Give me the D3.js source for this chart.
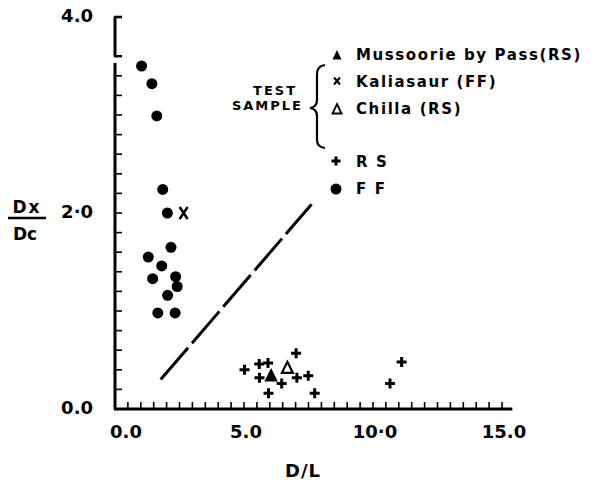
<!DOCTYPE html>
<html>
<head>
<meta charset="utf-8">
<script src="https://cdn.jsdelivr.net/npm/d3@7"></script>
<style>
  body { margin: 0; background: #fff; }
  text { font-family: "DejaVu Sans", sans-serif; font-weight: bold; fill: #000; }
</style>
</head>
<body>
<svg id="chart" width="597" height="482"></svg>
<script>
// Data
var ffX = [1.03, 1.43, 1.62, 1.85, 2.03, 2.17, 1.29, 1.81, 1.46, 2.35, 2.41, 2.04, 1.66, 2.33];
var ffY = [3.50, 3.32, 2.99, 2.24, 2.00, 1.65, 1.55, 1.46, 1.33, 1.35, 1.25, 1.16, 0.98, 0.98];

var rsX = [5.02, 5.59, 5.93, 5.60, 5.95, 6.46, 7.02, 7.05, 7.49, 7.74, 10.66, 11.11];
var rsY = [0.40, 0.46, 0.47, 0.32, 0.16, 0.26, 0.57, 0.32, 0.34, 0.16, 0.26, 0.48];

// test samples
var mussoorie = [6.05, 0.34];
var kaliasaur = [2.66, 2.00];
var chilla = [6.68, 0.42];

// dashed boundary line
var boundaryX = [1.77, 7.62];
var boundaryY = [0.30, 2.09];

var xTickLabels = [0, 5, 10, 15];
var xLabelText = ["0.0", "5.0", "10\u00b70", "15.0"];
var yTickLabels = [0, 2, 4];
var yLabelText = ["0.0", "2\u00b70", "4.0"];

var svg = d3.select("#chart");

var x = d3.scaleLinear().domain([0, 15]).range([115, 502]);
var y = d3.scaleLinear().domain([0, 4]).range([409, 17]);

// y axis, broken between 3.53 and 3.6
svg.append("line")
  .attr("x1", x(0)).attr("x2", x(0))
  .attr("y1", y(0)).attr("y2", y(3.53))
  .attr("stroke", "#000").attr("stroke-width", 3);
svg.append("line")
  .attr("x1", x(0)).attr("x2", x(0))
  .attr("y1", y(3.6)).attr("y2", y(4.0))
  .attr("stroke", "#000").attr("stroke-width", 3);

var yTicks = d3.range(1, 18).map(function(i) { return i * 0.2; });
svg.selectAll(".ytick").data(yTicks).enter().append("line")
  .attr("class", "ytick")
  .attr("x1", x(0)).attr("x2", x(0) + 7)
  .attr("y1", function(d) { return y(d); })
  .attr("y2", function(d) { return y(d); })
  .attr("stroke", "#000").attr("stroke-width", 1.6);
svg.selectAll(".ybr").data([3.6, 4.0]).enter().append("line")
  .attr("class", "ybr")
  .attr("x1", x(0) - 1).attr("x2", x(0) + 7)
  .attr("y1", function(d) { return y(d); })
  .attr("y2", function(d) { return y(d); })
  .attr("stroke", "#000").attr("stroke-width", 2.5);

// x axis
svg.append("line")
  .attr("x1", x(0) - 1).attr("x2", x(15.4))
  .attr("y1", y(0)).attr("y2", y(0))
  .attr("stroke", "#000").attr("stroke-width", 3);
var xTicks = d3.range(1, 31).map(function(i) { return i * 0.5; });
svg.selectAll(".xtick").data(xTicks).enter().append("line")
  .attr("class", "xtick")
  .attr("x1", function(d) { return x(d); })
  .attr("x2", function(d) { return x(d); })
  .attr("y1", y(0)).attr("y2", y(0) - 7)
  .attr("stroke", "#000").attr("stroke-width", 1.6);

// tick labels
svg.selectAll(".xl").data(xTickLabels).enter().append("text")
  .attr("class", "xl")
  .attr("x", function(d) { return x(d) + (d === 0 ? 11 : 2); })
  .attr("y", 438)
  .attr("text-anchor", "middle")
  .attr("font-size", 18)
  .text(function(d, i) { return xLabelText[i]; });

svg.selectAll(".yl").data(yTickLabels).enter().append("text")
  .attr("class", "yl")
  .attr("x", 93)
  .attr("y", function(d) { return y(d) + 5; })
  .attr("text-anchor", "end")
  .attr("font-size", 18)
  .text(function(d, i) { return yLabelText[i]; });

// axis titles
svg.append("text").attr("x", 303).attr("y", 477)
  .attr("text-anchor", "middle").attr("font-size", 18)
  .attr("letter-spacing", 1).text("D/L");
svg.append("text").attr("x", 27).attr("y", 213)
  .attr("text-anchor", "middle").attr("font-size", 17)
  .attr("letter-spacing", 2).text("Dx");
svg.append("line").attr("x1", 8).attr("x2", 46)
  .attr("y1", 218).attr("y2", 218)
  .attr("stroke", "#000").attr("stroke-width", 2.5);
svg.append("text").attr("x", 25).attr("y", 240)
  .attr("text-anchor", "middle").attr("font-size", 17)
  .text("Dc");

// dashed line
svg.append("line")
  .attr("x1", x(boundaryX[0])).attr("y1", y(boundaryY[0]))
  .attr("x2", x(boundaryX[1])).attr("y2", y(boundaryY[1]))
  .attr("stroke", "#000").attr("stroke-width", 3)
  .attr("stroke-dasharray", "42,6");

// markers
var plusPath = "M-5,0H5M0,-5V5";
var triPath = "M0,-6L5.5,5L-5.5,5Z";
var crossPath = "M-4,-6L4,6M4,-6L-4,6";

svg.selectAll(".ff").data(ffX).enter().append("circle")
  .attr("class", "ff")
  .attr("cx", function(d) { return x(d); })
  .attr("cy", function(d, i) { return y(ffY[i]); })
  .attr("r", 5.5).attr("fill", "#000");

svg.selectAll(".rs").data(rsX).enter().append("path")
  .attr("class", "rs")
  .attr("d", plusPath)
  .attr("transform", function(d, i) { return "translate(" + x(d) + "," + y(rsY[i]) + ")"; })
  .attr("stroke", "#000").attr("stroke-width", 3).attr("fill", "none");

svg.append("path").attr("d", triPath)
  .attr("transform", "translate(" + x(mussoorie[0]) + "," + y(mussoorie[1]) + ")")
  .attr("fill", "#000").attr("stroke", "#000").attr("stroke-width", 1.5);
svg.append("path").attr("d", triPath)
  .attr("transform", "translate(" + x(chilla[0]) + "," + y(chilla[1]) + ")")
  .attr("fill", "none").attr("stroke", "#000").attr("stroke-width", 2.2);
svg.append("path").attr("d", crossPath)
  .attr("transform", "translate(" + x(kaliasaur[0]) + "," + y(kaliasaur[1]) + ")")
  .attr("fill", "none").attr("stroke", "#000").attr("stroke-width", 2.5);

// legend
var lg = svg.append("g");
lg.append("text").attr("x", 297).attr("y", 95)
  .attr("text-anchor", "end").attr("font-size", 13)
  .attr("letter-spacing", 2).text("TEST");
lg.append("text").attr("x", 303).attr("y", 110)
  .attr("text-anchor", "end").attr("font-size", 13)
  .attr("letter-spacing", 2).text("SAMPLE");
lg.append("path")
  .attr("d", "M325,65 Q317,66 317,74 L317,100 Q317,107 310,108 Q317,109 317,116 L317,140 Q317,147 325,148")
  .attr("fill", "none").attr("stroke", "#000").attr("stroke-width", 2.2);

lg.append("path").attr("d", "M0,-5L4.5,4.5L-4.5,4.5Z")
  .attr("transform", "translate(337,55)").attr("fill", "#000");
lg.append("path").attr("d", "M-3,-3.5L3,3.5M3,-3.5L-3,3.5")
  .attr("transform", "translate(337,81)")
  .attr("stroke", "#000").attr("stroke-width", 2).attr("fill", "none");
lg.append("path").attr("d", "M0,-5L4.5,4.5L-4.5,4.5Z")
  .attr("transform", "translate(337,109)")
  .attr("fill", "none").attr("stroke", "#000").attr("stroke-width", 1.8);
lg.append("path").attr("d", "M-4.5,0H4.5M0,-4.5V4.5")
  .attr("transform", "translate(336,161)")
  .attr("stroke", "#000").attr("stroke-width", 3).attr("fill", "none");
lg.append("circle").attr("cx", 336).attr("cy", 189).attr("r", 5.5).attr("fill", "#000");

var legendText = ["Mussoorie by Pass(RS)", "Kaliasaur (FF)", "Chilla (RS)", "R S", "F F"];
var legendY = [60, 87, 114, 167, 194];
lg.selectAll(".lt").data(legendText).enter().append("text")
  .attr("class", "lt")
  .attr("x", 356)
  .attr("y", function(d, i) { return legendY[i]; })
  .attr("font-size", 15)
  .attr("letter-spacing", 1.6)
  .text(function(d) { return d; });
</script>
</body>
</html>
